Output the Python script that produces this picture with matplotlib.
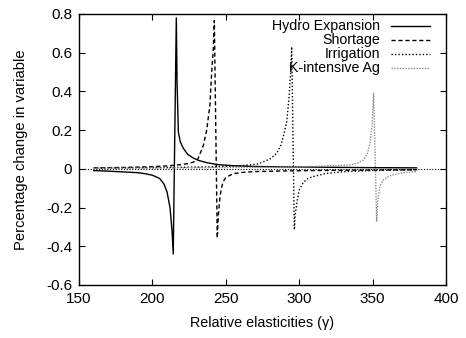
import matplotlib
matplotlib.use("Agg")
import matplotlib.pyplot as plt

plt.rcParams['font.family'] = ['Liberation Sans', 'DejaVu Sans']

# values
hydro_x = [160, 170, 180, 190, 195, 200, 205, 208, 210, 212, 213.4, 214.2,
           216.3, 216.8, 217.7, 219, 221, 224, 228, 232, 237, 244, 255, 270,
           290, 320, 350, 380]
hydro_y = [-0.009, -0.012, -0.016, -0.02, -0.025, -0.033, -0.05, -0.08, -0.12, -0.2, -0.32, -0.44,
           0.78, 0.45, 0.19, 0.14, 0.107, 0.075, 0.055, 0.042, 0.032, 0.022, 0.016, 0.012,
           0.01, 0.008, 0.006, 0.005]

short_x = [160, 180, 200, 210, 220, 225, 228, 231, 234.7, 237, 239.2, 240.4, 241.5, 242.2,
           244.2, 244.8, 245.4, 246, 247, 248.3, 250, 255, 262, 271, 290, 320, 357, 380]
short_y = [0.005, 0.007, 0.011, 0.015, 0.022, 0.028, 0.035, 0.05, 0.12, 0.2, 0.33, 0.5, 0.62, 0.766,
           -0.358, -0.26, -0.2, -0.15, -0.1, -0.066, -0.045, -0.025, -0.018, -0.014, -0.011, -0.008, -0.006, -0.005]

irrig_x = [160, 200, 240, 260, 272, 280, 284.7, 287.5, 289.2, 291.5, 293.1, 294.2, 294.9,
           296.7, 297.3, 298.3, 300, 302.8, 306, 309.6, 318, 330, 350, 380]
irrig_y = [0.004, 0.006, 0.01, 0.015, 0.025, 0.05, 0.08, 0.12, 0.167, 0.24, 0.37, 0.5, 0.63,
           -0.315, -0.24, -0.18, -0.11, -0.07, -0.05, -0.04, -0.024, -0.015, -0.009, -0.005]

kint_x = [160, 220, 280, 310, 325, 334.6, 340, 343.7, 346.5, 348.2, 349.6, 350.7,
          352.8, 353.5, 355, 357.3, 361.9, 368.7, 380]
kint_y = [0.003, 0.005, 0.008, 0.012, 0.017, 0.02, 0.03, 0.046, 0.08, 0.13, 0.22, 0.39,
          -0.27, -0.17, -0.09, -0.057, -0.036, -0.022, -0.014]

labels = ['Hydro Expansion', 'Shortage', 'Irrigation', 'K-intensive Ag']
xticks = [150, 200, 250, 300, 350, 400]
yticks = [-0.6, -0.4, -0.2, 0, 0.2, 0.4, 0.6, 0.8]

fig = plt.figure(figsize=(4.66, 3.38), dpi=100)
ax = fig.add_axes([0.1695, 0.157, 0.7875, 0.8016])

ax.axhline(0, color='black', lw=0.8, ls=(0, (1, 1.5)), zorder=1)

styles = [
    dict(color='black', lw=1.0, ls='-'),
    dict(color='black', lw=1.0, ls=(0, (3, 2))),
    dict(color='black', lw=1.0, ls=(0, (1, 1.5))),
    dict(color='0.55', lw=1.0, ls=(0, (1, 1))),
]
series = [(hydro_x, hydro_y), (short_x, short_y), (irrig_x, irrig_y), (kint_x, kint_y)]
for (xs, ys), st in zip(series, styles):
    ax.plot(xs, ys, zorder=2, **st)

# gnuplot-style key: right-aligned text, sample on the right
rows = [0.956, 0.904, 0.852, 0.801]
for lab, st, yy in zip(labels, styles, rows):
    ax.text(0.820, yy, lab, transform=ax.transAxes, ha='right', va='center', fontsize=10.2)
    ax.plot([0.850, 0.956], [yy, yy], transform=ax.transAxes, **st)

ax.set_xlim(150, 400)
ax.set_ylim(-0.6, 0.8)
ax.set_xticks(xticks)
ax.set_xticklabels([str(t) for t in xticks])
ax.set_yticks(yticks)
ax.set_yticklabels(['-0.6', '-0.4', '-0.2', '0', '0.2', '0.4', '0.6', '0.8'])
ax.tick_params(direction='in', length=4, width=0.8, top=True, right=True, labelsize=11, pad=5)
for sp in ax.spines.values():
    sp.set_linewidth(1.0)

ax.set_xlabel('Relative elasticities (\u03b3)', fontsize=10.4, labelpad=7)
ax.set_ylabel('Percentage change in variable', fontsize=10.6, labelpad=13)

fig.savefig('out.png', dpi=100)
